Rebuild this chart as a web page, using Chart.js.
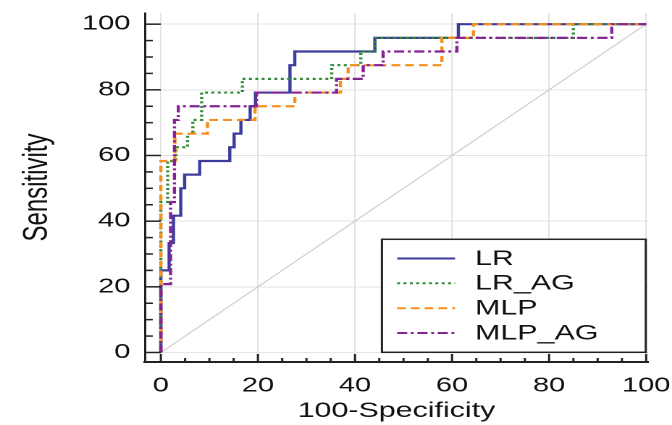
<!DOCTYPE html>
<html><head><meta charset="utf-8">
<script src="https://cdn.jsdelivr.net/npm/chart.js@4"></script>
<style>
html,body{margin:0;padding:0;background:#fff;overflow:hidden;}
#wrap{width:464px;height:425px;transform:scaleX(1.4483);transform-origin:0 0;}
</style></head><body>
<div id="wrap"><canvas id="c" width="464" height="425"></canvas></div>
<script>
// ---- data ----
const SERIES_NAMES = ['LR', 'LR_AG', 'MLP', 'MLP_AG'];
const LR_FPR = [0, 0, 1.7, 2.6, 4.1, 4.9, 8.0, 14.2, 15.1, 16.5, 18.4, 19.5, 26.6, 27.6, 44.1, 61.3, 100];
const LR_TPR = [0, 25, 33.33, 41.67, 50, 54.17, 58.33, 62.5, 66.67, 70.83, 75, 79.17, 87.5, 91.67, 95.83, 100, 100];
const LR_AG_FPR = [0, 0, 1.4, 3.1, 5.5, 6.6, 8.4, 16.8, 35.2, 41.2, 44.1, 85.0, 100];
const LR_AG_TPR = [0, 45.83, 58.33, 62.5, 66.67, 70.83, 79.17, 83.33, 87.5, 91.67, 95.83, 100, 100];
const MLP_FPR = [0, 0, 2.9, 9.6, 19.4, 27.6, 37.0, 38.6, 57.9, 64.4, 100];
const MLP_TPR = [0, 58.33, 66.67, 70.83, 75, 79.17, 83.33, 87.5, 95.83, 100, 100];
const MLP_AG_FPR = [0, 0, 2.0, 2.8, 3.6, 19.7, 36.2, 41.7, 45.8, 61.0, 92.9, 100];
const MLP_AG_TPR = [0, 20.83, 45.83, 70.83, 75, 79.17, 83.33, 87.5, 91.67, 95.83, 100, 100];
const DIAG_X = [0, 100];
const DIAG_Y = [0, 100];
const X_TICKS = [0, 20, 40, 60, 80, 100];
const Y_TICKS = [0, 20, 40, 60, 80, 100];
const MINOR_TICKS = [5, 10, 15, 25, 30, 35, 45, 50, 55, 65, 70, 75, 85, 90, 95];
const X_TITLE = '100-Specificity';
const Y_TITLE = 'Sensitivity';

// ---- styles ----
const FONT = 'Liberation Sans, Arial, sans-serif';
const STYLES = [
  {color: '#3c3c9c', dash: []},
  {color: '#2f8a32', dash: [2, 2.4]},
  {color: '#f5901e', dash: [6, 3.5]},
  {color: '#852395', dash: [7, 2.5, 2, 2.5]}
];
const LEGEND_BOX = {left: 263.7, top: 239.3, right: 445.9, bottom: 352.3,
  lineX0: 274.2, lineX1: 314.2, textX: 328, rows: [258.5, 283.3, 308.2, 333]};

function pts(xs, ys) { return xs.map((x, i) => ({x: x, y: ys[i]})); }

const SERIES = [[LR_FPR, LR_TPR], [LR_AG_FPR, LR_AG_TPR], [MLP_FPR, MLP_TPR], [MLP_AG_FPR, MLP_AG_TPR]];
const datasets = SERIES.map((s, i) => ({
  label: SERIES_NAMES[i],
  data: pts(s[0], s[1]),
  showLine: true,
  stepped: 'before',
  borderColor: STYLES[i].color,
  backgroundColor: STYLES[i].color,
  borderDash: STYLES[i].dash,
  borderWidth: 2.2,
  pointRadius: 0,
  fill: false,
  order: 4 - i
}));
datasets.push({
  label: '',
  data: pts(DIAG_X, DIAG_Y),
  showLine: true,
  borderColor: '#d9c9cc',
  borderWidth: 1,
  pointRadius: 0,
  fill: false,
  order: 10
});

const axisTicks = {
  id: 'axisTicks',
  afterDraw(chart) {
    const ctx = chart.ctx, x = chart.scales.x, y = chart.scales.y;
    ctx.save();
    ctx.strokeStyle = '#222';
    ctx.lineWidth = 1.5;
    const xb = x.top, yl = y.right;
    const seg = (a, b, c, d) => { ctx.beginPath(); ctx.moveTo(a, b); ctx.lineTo(c, d); ctx.stroke(); };
    X_TICKS.forEach(v => { const p = x.getPixelForValue(v); seg(p, xb, p, xb - 8); });
    MINOR_TICKS.forEach(v => { const p = x.getPixelForValue(v); seg(p, xb, p, xb - 4); });
    Y_TICKS.forEach(v => { const p = y.getPixelForValue(v); seg(yl, p, yl + 11, p); });
    MINOR_TICKS.forEach(v => { const p = y.getPixelForValue(v); seg(yl, p, yl + 5.5, p); });
    ctx.restore();
  }
};

const boxLegend = {
  id: 'boxLegend',
  afterDatasetsDraw(chart) {
    const ctx = chart.ctx, L = LEGEND_BOX;
    ctx.save();
    ctx.fillStyle = '#ffffff';
    ctx.fillRect(L.left, L.top, L.right - L.left, L.bottom - L.top);
    ctx.strokeStyle = '#222';
    ctx.lineWidth = 1.5;
    ctx.strokeRect(L.left, L.top, L.right - L.left, L.bottom - L.top);
    let row = 0;
    chart.data.datasets.forEach(ds => {
      if (!ds.label) return;
      const yy = L.rows[row++];
      ctx.strokeStyle = ds.borderColor;
      ctx.lineWidth = 2;
      ctx.setLineDash(ds.borderDash || []);
      ctx.beginPath(); ctx.moveTo(L.lineX0, yy); ctx.lineTo(L.lineX1, yy); ctx.stroke();
      ctx.setLineDash([]);
      ctx.fillStyle = '#111';
      ctx.font = '21px ' + FONT;
      ctx.textBaseline = 'middle';
      ctx.textAlign = 'left';
      ctx.fillText(ds.label, L.textX, yy + 0.5);
    });
    ctx.restore();
  }
};

new Chart(document.getElementById('c'), {
  type: 'scatter',
  data: {datasets: datasets},
  plugins: [axisTicks, boxLegend],
  options: {
    responsive: false,
    animation: false,
    devicePixelRatio: 2,
    layout: {padding: {top: 13, right: 16.5, bottom: 0, left: 0}},
    plugins: {legend: {display: false}, tooltip: {enabled: false}},
    scales: {
      x: {
        type: 'linear', min: -3.3, max: 100.4,
        afterBuildTicks: s => { s.ticks = X_TICKS.map(v => ({value: v})); },
        afterFit: s => { s.height = 63; s.paddingLeft = 0; s.paddingRight = 0; },
        grid: {color: '#e3e3e3', lineWidth: 1, drawTicks: false},
        border: {display: true, color: '#222', width: 2},
        ticks: {padding: 12, color: '#111', font: {family: FONT, size: 20}, maxRotation: 0},
        title: {display: true, text: X_TITLE, color: '#111', font: {family: FONT, size: 21}, padding: {top: 0, bottom: 1}}
      },
      y: {
        type: 'linear', min: -2.9, max: 103.4,
        afterBuildTicks: s => { s.ticks = Y_TICKS.map(v => ({value: v})); },
        afterFit: s => { s.width = 100; s.paddingTop = 0; s.paddingBottom = 0; },
        grid: {color: '#e3e3e3', lineWidth: 1, drawTicks: false},
        border: {display: true, color: '#222', width: 1.5},
        ticks: {padding: 10, color: '#111', font: {family: FONT, size: 20}},
        title: {display: true, text: Y_TITLE, color: '#111', font: {family: FONT, size: 24}, padding: {top: 11.5, bottom: 0}}
      }
    }
  }
});
</script>
</body></html>
